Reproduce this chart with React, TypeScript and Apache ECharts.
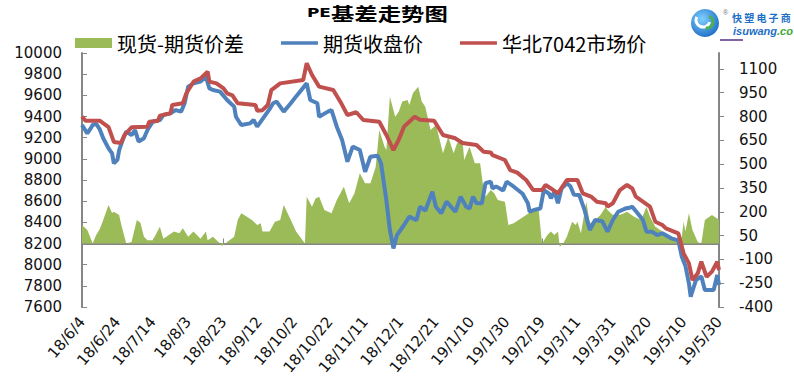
import React, { useEffect, useRef } from "react";
import * as echarts from "echarts";

// Daily calendar categories 18/6/4 … 19/5/30 (labels shown every 20 days)
const START_Y = 2018, START_M = 5, START_D = 4, DAY_COUNT = 361;
const categories: string[] = Array.from({ length: DAY_COUNT }, (_, i) => {
  const d = new Date(START_Y, START_M, START_D + i);
  return `${d.getFullYear() % 100}/${d.getMonth() + 1}/${d.getDate()}`;
});

const titleLatin = "PE";
const titleCjk = "基差走势图";
const seriesNames = ["现货-期货价差", "期货收盘价", "华北7042市场价"];

// [day index into categories, value]
const spreadPts: [number, number][] = [
  [0,117],[3,85],[5,30],[6,0],[8,54],[10,90],[12,148],[15,243],[17,192],[18,200],[21,180],[22,127],[24,43],[25,0],
  [28,10],[31,148],[33,130],[35,43],[37,20],[40,20],[44,106],[46,30],[52,75],[55,64],[57,96],[60,43],[63,75],[67,30],
  [70,75],[71,20],[74,43],[78,0],[79,-15],[82,10],[86,43],[88,148],[90,190],[93,170],[96,148],[99,117],[101,127],
  [102,75],[106,75],[109,137],[112,148],[114,243],[118,148],[121,75],[126,0],[127,295],[130,232],[132,283],[134,295],
  [137,211],[141,190],[144,274],[148,358],[151,253],[154,316],[157,442],[160,379],[163,379],[166,484],[168,715],
  [171,610],[172,589],[174,925],[177,799],[179,830],[181,894],[184,904],[185,873],[187,946],[190,988],[192,894],
  [194,862],[197,715],[200,747],[201,705],[204,568],[207,673],[210,568],[212,631],[215,652],[216,526],[219,610],
  [222,505],[225,505],[227,337],[228,295],[231,337],[233,316],[235,274],[239,263],[241,116],[244,127],[248,158],
  [251,180],[255,211],[258,222],[260,0],[263,54],[265,75],[267,54],[269,75],[270,-20],[272,0],[274,43],[277,137],
  [279,116],[280,137],[282,64],[285,263],[287,127],[290,148],[293,180],[296,232],[297,211],[300,180],[303,190],
  [304,180],[308,200],[312,169],[316,148],[319,232],[321,169],[324,106],[328,75],[333,43],[337,20],[339,43],
  [340,137],[341,75],[343,190],[345,85],[348,10],[350,0],[352,148],[356,180],[359,158],[360,148]
];

const futuresPts: [number, number][] = [
  [0,9320],[3,9241],[5,9290],[6,9320],[8,9330],[10,9280],[12,9194],[15,9099],[17,9052],[18,8958],[20,8990],[21,9083],
  [23,9178],[25,9257],[28,9225],[30,9272],[32,9162],[35,9194],[37,9272],[40,9351],[44,9367],[46,9414],[50,9430],
  [53,9461],[56,9446],[58,9525],[60,9682],[63,9713],[67,9730],[70,9776],[72,9666],[74,9650],[78,9635],[82,9556],
  [86,9493],[87,9398],[90,9320],[95,9335],[97,9367],[99,9304],[101,9351],[103,9398],[106,9470],[108,9525],[110,9540],
  [114,9446],[118,9525],[121,9590],[127,9713],[129,9556],[133,9525],[134,9398],[139,9446],[141,9461],[144,9304],
  [147,9178],[150,8973],[153,9115],[157,9083],[160,8878],[163,9020],[167,9030],[169,8958],[172,8611],[174,8328],
  [176,8154],[178,8280],[182,8375],[185,8454],[189,8420],[191,8548],[194,8510],[198,8690],[200,8548],[203,8485],
  [206,8595],[211,8500],[214,8643],[217,8550],[219,8530],[221,8643],[223,8580],[226,8580],[228,8769],[231,8784],
  [232,8720],[234,8740],[238,8700],[240,8784],[243,8750],[246,8710],[249,8670],[252,8580],[253,8500],[256,8520],
  [259,8530],[261,8705],[264,8670],[265,8627],[267,8690],[269,8580],[271,8720],[274,8769],[276,8740],[278,8660],
  [281,8658],[284,8517],[287,8328],[290,8422],[294,8410],[297,8312],[300,8422],[303,8500],[307,8530],[310,8540],
  [311,8548],[314,8485],[317,8422],[319,8312],[322,8312],[325,8280],[328,8296],[333,8249],[337,8230],[339,8075],
  [341,7990],[343,7824],[344,7697],[347,7855],[350,7890],[352,7761],[357,7761],[359,7902],[360,7810]
];

const spotPts: [number, number][] = [
  [0,9400],[2,9360],[10,9360],[15,9300],[18,9160],[22,9150],[24,9225],[28,9298],[37,9304],[38,9350],[43,9360],
  [44,9408],[50,9430],[51,9509],[57,9525],[59,9620],[63,9729],[67,9760],[71,9824],[72,9730],[76,9713],[80,9666],
  [82,9619],[85,9600],[88,9525],[98,9509],[99,9455],[102,9460],[105,9509],[107,9650],[112,9713],[125,9745],
  [127,9903],[130,9792],[134,9682],[142,9650],[146,9540],[150,9414],[155,9440],[159,9367],[168,9350],[172,9225],
  [176,9083],[179,9180],[182,9304],[188,9398],[191,9370],[199,9360],[204,9225],[211,9194],[215,9150],[223,9131],
  [227,9067],[231,9060],[232,9036],[239,8989],[242,8894],[246,8870],[251,8800],[255,8705],[260,8705],[262,8753],
  [265,8720],[269,8674],[274,8800],[280,8800],[283,8674],[288,8640],[291,8595],[296,8580],[297,8548],[300,8580],
  [304,8705],[308,8753],[311,8720],[313,8642],[317,8595],[321,8548],[324,8406],[328,8375],[330,8343],[337,8296],
  [340,8107],[343,8012],[345,7855],[348,7918],[350,8028],[353,7886],[356,7934],[359,8028],[360,7950]
];

const leftAxis = { min: 7600, max: 10000, interval: 200 };
const rightAxis = { min: -400, max: 1200, interval: 150 };
const logoChars = ["快", "塑", "电", "子", "商"];
const logoLatin = ["isuwang", ".co"];

const GREEN = "#9BBB59";
const BLUE = "#4F81BD";
const RED = "#C0504D";
const AXIS = "#868686";
const LABEL_FONT = "DejaVu Sans";
const CJK_FONT = "Noto Sans CJK SC";
// thin bar icon inside a 37x10 box (first two moves pin the bounding box)
const LINE_ICON = "path://M0,0 M37,10 M0,3.2 L37,3.2 L37,6.8 L0,6.8 Z";

const toData = (pts: [number, number][]) => pts.map(([i, v]) => [categories[i], v]);

export default function App() {
  const ref = useRef<HTMLDivElement>(null);
  useEffect(() => {
    if (!ref.current) return;
    const chart = echarts.init(ref.current, undefined, { renderer: "svg" });
    const axisLabel = { color: "#111", fontFamily: LABEL_FONT, fontSize: 15 };
    chart.setOption({
      animation: false,
      backgroundColor: "#fff",
      legend: {
        left: 70,
        top: 28,
        itemWidth: 37,
        itemHeight: 10,
        itemGap: 37,
        textStyle: { fontFamily: CJK_FONT, fontSize: 20, color: "#000" },
        data: [
          { name: seriesNames[0], icon: "rect", itemStyle: { color: GREEN } },
          { name: seriesNames[1], icon: LINE_ICON, itemStyle: { color: BLUE } },
          { name: seriesNames[2], icon: LINE_ICON, itemStyle: { color: RED } },
        ],
      },
      grid: { left: 82, right: 75, top: 53, bottom: 79, containLabel: false },
      xAxis: {
        type: "category",
        data: categories,
        boundaryGap: false,
        axisLine: { lineStyle: { color: AXIS, width: 2 } },
        axisTick: { inside: true, length: 5, interval: 19, alignWithLabel: true, lineStyle: { color: AXIS } },
        axisLabel: { ...axisLabel, interval: 19, rotate: 50, margin: 12 },
        splitLine: { show: false },
      },
      yAxis: [
        {
          type: "value",
          ...leftAxis,
          position: "left",
          axisLine: { show: true, lineStyle: { color: AXIS, width: 2 } },
          axisTick: { show: true, inside: true, length: 5, lineStyle: { color: AXIS } },
          axisLabel: { ...axisLabel, margin: 20, formatter: (v: number) => String(v) },
          splitLine: { show: false },
        },
        {
          type: "value",
          ...rightAxis,
          position: "right",
          axisLine: { show: true, lineStyle: { color: AXIS, width: 2 } },
          axisTick: { show: true, inside: false, length: 5, lineStyle: { color: AXIS } },
          axisLabel: { ...axisLabel, margin: 20, showMaxLabel: false, formatter: (v: number) => String(v) },
          splitLine: { show: false },
        },
      ],
      series: [
        {
          name: seriesNames[0],
          type: "line",
          yAxisIndex: 1,
          data: toData(spreadPts),
          symbol: "none",
          itemStyle: { color: GREEN },
          lineStyle: { width: 0, color: GREEN },
          areaStyle: { color: GREEN, opacity: 1, origin: 0 },
          z: 1,
        },
        {
          name: seriesNames[1],
          type: "line",
          yAxisIndex: 0,
          data: toData(futuresPts),
          symbol: "none",
          itemStyle: { color: BLUE },
          lineStyle: { width: 4, color: BLUE },
          z: 2,
        },
        {
          name: seriesNames[2],
          type: "line",
          yAxisIndex: 0,
          data: toData(spotPts),
          symbol: "none",
          itemStyle: { color: RED },
          lineStyle: { width: 4, color: RED },
          z: 3,
        },
      ],
      graphic: [
        {
          type: "text",
          x: 307,
          y: 13,
          scaleX: 1.3,
          style: {
            text: `{a|${titleLatin}}{b|${titleCjk}}`,
            verticalAlign: "middle",
            rich: {
              a: { fontFamily: "DejaVu Sans", fontSize: 13, fontWeight: "bold", fill: "#000" },
              b: { fontFamily: CJK_FONT, fontSize: 18, fontWeight: "bold", fill: "#000" },
            },
          },
        },
        {
          type: "circle",
          shape: { cx: 705, cy: 23, r: 14 },
          style: {
            fill: {
              type: "radial", x: 0.4, y: 0.35, r: 0.75,
              colorStops: [ { offset: 0, color: "#7fd0ff" }, { offset: 1, color: "#1565c0" } ],
            },
          },
        },
        { type: "arc", shape: { cx: 703, cy: 20, r: 7, startAngle: 0.3, endAngle: 3.6 }, style: { stroke: "#fff", lineWidth: 3, fill: null } },
        { type: "arc", shape: { cx: 707, cy: 22, r: 6, startAngle: -1.2, endAngle: 1.8 }, style: { stroke: "#4caf50", lineWidth: 3, fill: null } },
        { type: "text", x: 723, y: 9, style: { text: "®", fontSize: 7, fill: "#777" } },
        ...logoChars.map((c, i) => ({
          type: "text",
          x: 732 + i * 12.2,
          y: 12,
          style: { text: c, fontFamily: CJK_FONT, fontSize: 10, fontWeight: "bold", fill: "#1f6fc6" },
        })),
        {
          type: "text",
          x: 733,
          y: 25,
          style: {
            text: `{a|${logoLatin[0]}}{b|${logoLatin[1]}}`,
            rich: {
              a: { fontFamily: "Liberation Sans", fontSize: 11, fontWeight: "bold", fontStyle: "italic", fill: "#1f6fc6" },
              b: { fontFamily: "Liberation Sans", fontSize: 11, fontWeight: "bold", fontStyle: "italic", fill: "#3aa635" },
            },
          },
        },
        { type: "line", shape: { x1: 720, y1: 40, x2: 743, y2: 40 }, style: { stroke: "#8064A2", lineWidth: 2 } },
      ],
    });
    return () => chart.dispose();
  }, []);
  return <div ref={ref} style={{ width: 794, height: 386, position: "absolute", left: 0, top: 0 }} />;
}
